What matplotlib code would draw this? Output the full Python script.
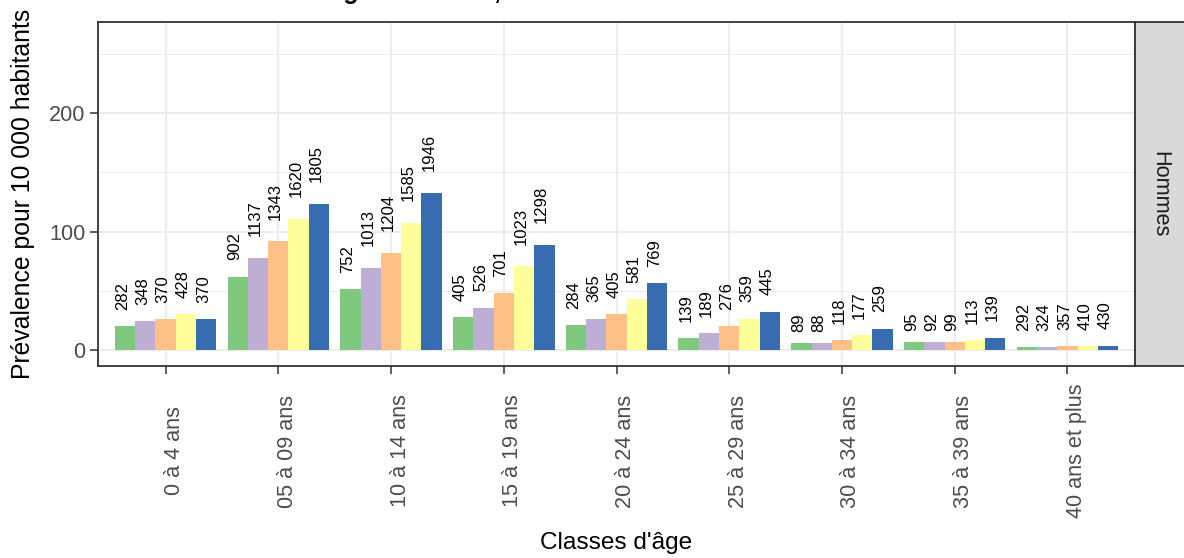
import matplotlib.pyplot as plt
import matplotlib.patches as mpatches
import matplotlib.transforms as mtransforms
import numpy as np

plt.rcParams['font.family'] = ['Liberation Sans', 'DejaVu Sans']

# ===== DONNEES =====
classes = ["0 à 4 ans", "05 à 09 ans", "10 à 14 ans", "15 à 19 ans", "20 à 24 ans",
           "25 à 29 ans", "30 à 34 ans", "35 à 39 ans", "40 ans et plus"]
series = ["s1", "s2", "s3", "s4", "s5"]
colors = ["#7FC97F", "#BEAED4", "#FDC086", "#FFFF99", "#386CB0"]

# prévalence pour 10 000 habitants
prev_s1 = [20.0, 62.0, 51.2, 27.8, 20.8, 10.1, 6.2, 7.1, 2.3]
prev_s2 = [24.5, 77.6, 69.2, 35.8, 26.5, 14.3, 6.2, 6.5, 2.3]
prev_s3 = [25.9, 91.7, 82.2, 48.1, 30.1, 20.0, 8.2, 7.1, 3.1]
prev_s4 = [30.0, 110.5, 107.5, 70.6, 43.0, 26.5, 12.4, 8.2, 3.1]
prev_s5 = [25.9, 123.2, 132.5, 88.6, 56.5, 32.4, 18.0, 10.5, 3.7]

# effectifs affichés au-dessus des barres
n_s1 = [282, 902, 752, 405, 284, 139, 89, 95, 292]
n_s2 = [348, 1137, 1013, 526, 365, 189, 88, 92, 324]
n_s3 = [370, 1343, 1204, 701, 405, 276, 118, 99, 357]
n_s4 = [428, 1620, 1585, 1023, 581, 359, 177, 113, 410]
n_s5 = [370, 1805, 1946, 1298, 769, 445, 259, 139, 430]

prev = [prev_s1, prev_s2, prev_s3, prev_s4, prev_s5]
counts = [n_s1, n_s2, n_s3, n_s4, n_s5]

# ===== FIGURE =====
W, H = 1184, 558
fig = plt.figure(figsize=(W / 100, H / 100), dpi=100)
ax = fig.add_axes([98 / W, 1 - 366 / H, (1135 - 98) / W, (366 - 22) / H])

x = np.arange(1, len(classes) + 1)
bw = 0.9 / len(series)
for i, (vals, ns, col) in enumerate(zip(prev, counts, colors)):
    xpos = x - 0.45 + bw * (i + 0.5)
    ax.bar(xpos, vals, width=bw, color=col, zorder=3, label=series[i])
    for xp, v, n in zip(xpos, vals, ns):
        # décalage proportionnel à la longueur du texte (comme un hjust négatif)
        ax.annotate(str(n), (xp, v), xytext=(-2, 3.9 * len(str(n))),
                    textcoords="offset points", rotation=90, ha="center", va="bottom",
                    fontsize=12, color="black", zorder=4)

ax.set_xlim(0.4, len(classes) + 0.6)
ax.set_ylim(-13.5, 276.8)

ax.set_yticks([0, 100, 200])
ax.set_yticks([50, 150, 250], minor=True)
ax.set_xticks(x)
ax.set_xticklabels([])
ax.grid(which="major", color="#EBEBEB", lw=1.3, zorder=0)
ax.grid(which="minor", axis="y", color="#EBEBEB", lw=0.7, zorder=0)
ax.tick_params(axis="both", which="major", length=5.5, width=1.1, color="#333333",
               labelsize=15.6, labelcolor="#4D4D4D")
ax.tick_params(axis="y", which="minor", length=0)
for s in ax.spines.values():
    s.set_color("#333333")
    s.set_linewidth(1.3)
    s.set_zorder(5)

# étiquettes de l'axe x (pivotées, centrées)
trans = mtransforms.blended_transform_factory(ax.transData, ax.transAxes)
off = mtransforms.ScaledTranslation(9 / 100, 0, fig.dpi_scale_trans)
for xi, lab in zip(x, classes):
    ax.text(xi, (366 - 451) / (366 - 22), lab, rotation=90, ha="center", va="center",
            fontsize=15.6, color="#4D4D4D", transform=trans + off)

ax.set_ylabel("Prévalence pour 10 000 habitants", fontsize=17.8, labelpad=10)
fig.text(616 / W, 1 - 543 / H, "Classes d'âge", ha="center", va="center", fontsize=17.6)

# bandeau de facette
strip = mpatches.Rectangle((1135 / W, 1 - 366 / H), 60 / W, (366 - 22) / H,
                           transform=fig.transFigure, facecolor="#D9D9D9",
                           edgecolor="#333333", lw=1.3)
fig.patches.append(strip)
fig.text(1160 / W, 1 - 194 / H, "Hommes", rotation=270, ha="center", va="center",
         fontsize=15.6, color="#1A1A1A")

# titre (coupé en haut de l'image, comme dans la référence)
fig.text(105 / W, 1.0 + 0.5 / H, "Prévalence selon l'âge et l'année, hommes",
         ha="left", va="baseline", fontsize=18, fontweight="bold")

fig.savefig("out.png", dpi=100)
